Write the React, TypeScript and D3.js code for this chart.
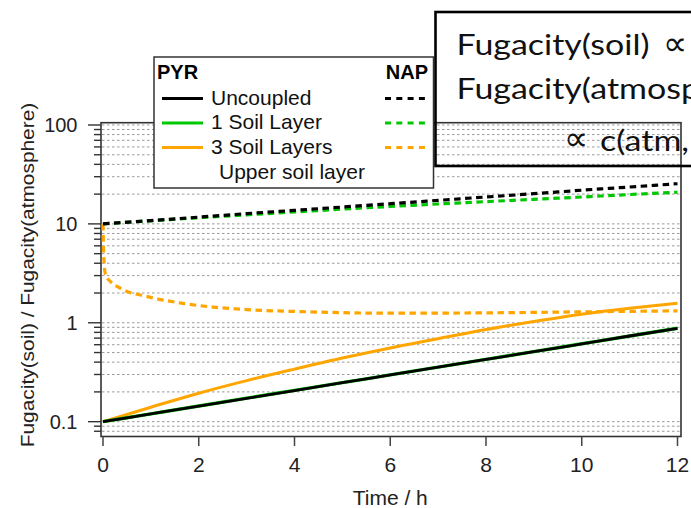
import React, { useLayoutEffect, useState } from 'react';
import * as d3 from 'd3';

// ---- data ----
const hours = [0, 1, 2, 3, 4, 5, 6, 7, 8, 9, 10, 11, 12];
const pyrUncoupled = [0.1, 0.12, 0.144, 0.172, 0.206, 0.248, 0.297, 0.356, 0.426, 0.51, 0.612, 0.735, 0.88];
const pyr1Layer = [0.1, 0.12, 0.144, 0.173, 0.207, 0.248, 0.297, 0.356, 0.427, 0.511, 0.613, 0.735, 0.88];
const pyr3Layers = [0.1, 0.14, 0.194, 0.26, 0.34, 0.44, 0.557, 0.69, 0.855, 1.03, 1.22, 1.4, 1.58];
const napUncoupled = [10, 10.8, 11.7, 12.7, 13.7, 14.8, 16.0, 17.3, 18.7, 20.2, 21.9, 23.6, 25.5];
const nap1Layer = [10, 10.75, 11.55, 12.35, 13.2, 14.1, 15.0, 15.9, 16.8, 17.7, 18.7, 19.8, 20.9];
const nap3Time = [0, 0.01, 0.03, 0.06, 0.15, 0.39, 0.95, 1.6, 2.3, 3.0, 4.3, 6, 8, 10, 12];
const nap3Upper = [10, 6, 3.6, 3.0, 2.63, 2.2, 1.83, 1.59, 1.44, 1.36, 1.29, 1.25, 1.26, 1.29, 1.32];

const xTicks = [0, 2, 4, 6, 8, 10, 12];
const yMajorTicks = [0.1, 1, 10, 100];
const yTickLabels = ['0.1', '1', '10', '100'];
const legendLabels = ['Uncoupled', '1 Soil Layer', '3 Soil Layers'];
const seriesColors = ['#000000', '#00c800', '#ffa500'];
const boxLines = ['Fugacity(soil)', 'Fugacity(atmosp', 'c(atm,'];
const PROP = '\u221D';

const FONT = "'Liberation Sans', Arial, sans-serif";
const BOX_FONT = "Lato, 'Open Sans', 'DejaVu Sans', sans-serif";

export default function App() {
  const x = d3.scaleLinear().domain([0, 12]).range([103, 677.5]);
  const y = d3.scaleLog().domain([0.0708, 105.5]).range([436.5, 122.7]);
  const gridVals = y.ticks();
  const line = d3
    .line<[number, number]>()
    .x((d) => x(d[0]))
    .y((d) => y(d[1]))
    .curve(d3.curveMonotoneX);
  const pts = (t: number[], v: number[]) => t.map((ti, i) => [ti, v[i]] as [number, number]);

  const [sx, setSx] = useState(1.12);
  useLayoutEffect(() => {
    try {
      const ctx = document.createElement('canvas').getContext('2d');
      if (ctx) {
        ctx.font = '29px Lato';
        const w = ctx.measureText(boxLines[0]).width;
        if (w > 0) setSx(193 / w);
      }
    } catch (e) {
      /* keep default */
    }
  }, []);

  const [x0, x1] = [101, 681];
  const [yTop, yBot] = [122.7, 436.5];
  const legendLineY = [98.5, 123, 147.5];
  const dash = '6.5,4.5';

  return (
    <svg
      width={691}
      height={508}
      style={{ position: 'absolute', left: 0, top: 0, background: '#fff' }}
      fontFamily={FONT}
    >
      <defs>
        <clipPath id="plotclip">
          <rect x={x0} y={yTop} width={x1 - x0} height={yBot - yTop} />
        </clipPath>
      </defs>
      <rect x={0} y={0} width={691} height={508} fill="#fff" />
      {/* text box fill */}
      <rect x={435.5} y={12} width={270} height={154} fill="#fff" />

      {/* grid */}
      {gridVals.map((v, i) => (
        <line
          key={'g' + i}
          x1={x0 + 1}
          x2={x1}
          y1={y(v)}
          y2={y(v)}
          stroke="#9a9a9a"
          strokeWidth={1}
          strokeDasharray="2.5,2.5"
        />
      ))}

      {/* frame */}
      <rect x={x0} y={yTop} width={x1 - x0} height={yBot - yTop} fill="none" stroke="#333" strokeWidth={1.6} />

      {/* y ticks */}
      {gridVals.map((v, i) => {
        const major = yMajorTicks.some((m) => Math.abs(m - v) / m < 1e-6);
        return (
          <line key={'yt' + i} x1={major ? 88 : 94} x2={x0} y1={y(v)} y2={y(v)} stroke="#333" strokeWidth={1.4} />
        );
      })}
      {yMajorTicks.map((v, i) => (
        <text key={'yl' + i} x={77.5} y={y(v) + 7} textAnchor="end" fontSize={20} fill="#222">
          {yTickLabels[i]}
        </text>
      ))}

      {/* x ticks */}
      {xTicks.map((t) => (
        <g key={'xt' + t}>
          <line x1={x(t)} x2={x(t)} y1={yBot} y2={446} stroke="#444" strokeWidth={1.5} />
          <text x={x(t)} y={472} textAnchor="middle" fontSize={21} fill="#222">
            {t}
          </text>
        </g>
      ))}
      <text x={x(6)} y={505} textAnchor="middle" fontSize={21} fill="#222">
        Time / h
      </text>
      <text transform="translate(33.5,275) rotate(-90) scale(1.16,1)" textAnchor="middle" fontSize={18} fill="#222">
        Fugacity(soil) / Fugacity(atmosphere)
      </text>

      {/* curves */}
      <g clipPath="url(#plotclip)" fill="none" strokeLinejoin="round">
        <path d={line(pts(nap3Time, nap3Upper)) || ''} stroke={seriesColors[2]} strokeWidth={3.2} strokeDasharray={dash} />
        <path d={line(pts(hours, nap1Layer)) || ''} stroke={seriesColors[1]} strokeWidth={3.2} strokeDasharray={dash} />
        <path d={line(pts(hours, napUncoupled)) || ''} stroke={seriesColors[0]} strokeWidth={3.2} strokeDasharray={dash} />
        <path d={line(pts(hours, pyr3Layers)) || ''} stroke={seriesColors[2]} strokeWidth={3} />
        <path d={line(pts(hours, pyr1Layer)) || ''} stroke={seriesColors[1]} strokeWidth={3.4} />
        <path d={line(pts(hours, pyrUncoupled)) || ''} stroke={seriesColors[0]} strokeWidth={2.8} />
      </g>

      {/* legend */}
      <g>
        <rect x={154} y={57} width={279.5} height={131} fill="#fff" stroke="#333" strokeWidth={1.5} />
        <text x={157} y={78.5} fontSize={20} fontWeight="bold" fill="#000">
          PYR
        </text>
        <text x={428} y={78.5} fontSize={20} fontWeight="bold" fill="#000" textAnchor="end">
          NAP
        </text>
        {legendLabels.map((lab, i) => (
          <g key={'lg' + i}>
            <line x1={162} x2={203} y1={legendLineY[i]} y2={legendLineY[i]} stroke={seriesColors[i]} strokeWidth={3} />
            <text x={211} y={legendLineY[i] + 6} fontSize={21} fill="#111">
              {lab}
            </text>
            <line
              x1={385}
              x2={428}
              y1={legendLineY[i]}
              y2={legendLineY[i]}
              stroke={seriesColors[i]}
              strokeWidth={3}
              strokeDasharray="6,5.3"
            />
          </g>
        ))}
        <text x={219} y={179} fontSize={21} fill="#111">
          Upper soil layer
        </text>
      </g>

      {/* text box border and text */}
      <rect x={435.5} y={12} width={270} height={154} fill="none" stroke="#000" strokeWidth={2.6} />
      <g fontFamily={BOX_FONT} fontSize={29} fill="#111">
        <text transform={`translate(456.5,55) scale(${sx},1)`}>{boxLines[0]}</text>
        <text x={663} y={55} fontSize={34} fontFamily="'DejaVu Sans', sans-serif" fontWeight="300">
          {PROP}
        </text>
        <text transform={`translate(456.5,99) scale(${sx},1)`}>{boxLines[1]}</text>
        <text x={564} y={149.5} fontSize={34} fontFamily="'DejaVu Sans', sans-serif" fontWeight="300">
          {PROP}
        </text>
        <text transform={`translate(600,150.5) scale(${sx},1)`}>{boxLines[2]}</text>
      </g>
    </svg>
  );
}
